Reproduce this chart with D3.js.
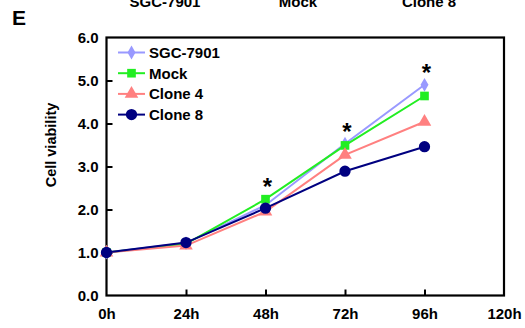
<!DOCTYPE html>
<html>
<head>
<meta charset="utf-8">
<script src="https://cdn.jsdelivr.net/npm/d3@7"></script>
<style>
  body { margin: 0; background: #fff; }
  text { font-family: "Liberation Sans", Arial, sans-serif; font-weight: bold; fill: #000; }
</style>
</head>
<body>
<script>
// data
var hours = [0, 24, 48, 72, 96];
var xTicks = [0, 24, 48, 72, 96, 120];
var yTicks = [0, 1, 2, 3, 4, 5, 6];
var seriesNames = ["SGC-7901", "Mock", "Clone 4", "Clone 8"];
var sgcValues = [1.0, 1.22, 2.1, 3.53, 4.9];
var mockValues = [1.0, 1.2, 2.24, 3.49, 4.64];
var clone4Values = [1.0, 1.16, 1.95, 3.27, 4.04];
var clone8Values = [1.0, 1.23, 2.03, 2.89, 3.46];
var starHours = [48, 72, 96];
var starValues = [2.24, 3.53, 4.9];
var topLabels = ["SGC-7901", "Mock", "Clone 8"];

var colors = ["#9999ff", "#22ee22", "#ff8080", "#000080"];
var shapes = [d3.symbolDiamond, d3.symbolSquare, d3.symbolTriangle, d3.symbolCircle];
var sizes = [55, 75, 80, 100];
var allValues = [sgcValues, mockValues, clone4Values, clone8Values];

var svg = d3.select("body").append("svg")
  .attr("width", 525)
  .attr("height", 328);

var x = d3.scaleLinear().domain([0, 120]).range([106.5, 504]);
var y = d3.scaleLinear().domain([0, 6]).range([295.5, 37.5]);

// cut-off header labels from the panel above
var topX = [165, 298, 429];
svg.selectAll(".top").data(topLabels).enter().append("text")
  .attr("x", function(d, i) { return topX[i]; })
  .attr("y", 7)
  .attr("text-anchor", "middle")
  .style("font-size", "15px")
  .text(function(d) { return d; });

svg.append("text")
  .attr("x", 12).attr("y", 25)
  .style("font-size", "21px")
  .text("E");

// axes
var yAxis = d3.axisLeft(y).tickValues(yTicks).tickSize(-6).tickPadding(8)
  .tickFormat(d3.format(".1f"));
var xAxis = d3.axisBottom(x).tickValues(xTicks).tickSize(-6).tickPadding(13)
  .tickFormat(function(d) { return d + "h"; });

var gy = svg.append("g").attr("transform", "translate(106.5,0)").call(yAxis);
var gx = svg.append("g").attr("transform", "translate(0,295.5)").call(xAxis);
[gx, gy].forEach(function(g) {
  g.select(".domain").remove();
  g.selectAll("line").attr("stroke", "#000").attr("stroke-width", 2);
  g.selectAll("text").style("font-size", "15px");
});
gx.selectAll(".tick line").filter(function(d) { return d === 0 || d === 120; }).remove();
gy.selectAll(".tick line").filter(function(d) { return d === 0 || d === 6; }).remove();

svg.append("rect")
  .attr("x", x(0)).attr("y", y(6))
  .attr("width", x(120) - x(0)).attr("height", y(0) - y(6))
  .attr("fill", "none").attr("stroke", "#000").attr("stroke-width", 2.2);

svg.append("text")
  .attr("transform", "translate(56,145) rotate(-90)")
  .attr("text-anchor", "middle")
  .style("font-size", "14.5px")
  .text("Cell viability");

// lines + markers
var line = d3.line()
  .x(function(d, i) { return x(hours[i]); })
  .y(function(d) { return y(d); });

allValues.forEach(function(vals, s) {
  svg.append("path")
    .datum(vals)
    .attr("d", line)
    .attr("fill", "none")
    .attr("stroke", colors[s])
    .attr("stroke-width", 2);
  svg.selectAll(".m" + s).data(vals).enter().append("path")
    .attr("transform", function(d, i) { return "translate(" + x(hours[i]) + "," + y(d) + ")"; })
    .attr("d", d3.symbol().type(shapes[s]).size(sizes[s]))
    .attr("fill", colors[s]);
});

// significance stars
svg.selectAll(".star").data(starValues).enter().append("text")
  .attr("x", function(d, i) { return x(starHours[i]) + 2; })
  .attr("y", function(d) { return y(d) - 4; })
  .attr("text-anchor", "middle")
  .style("font-size", "24px")
  .text("*");

// legend
var legend = svg.selectAll(".leg").data(seriesNames).enter().append("g")
  .attr("transform", function(d, i) { return "translate(118," + (52.5 + i * 20.7) + ")"; });
legend.append("line")
  .attr("x1", 0).attr("x2", 27)
  .attr("stroke", function(d, i) { return colors[i]; })
  .attr("stroke-width", 2);
legend.append("path")
  .attr("transform", "translate(13.5,0)")
  .attr("d", function(d, i) { return d3.symbol().type(shapes[i]).size(sizes[i])(); })
  .attr("fill", function(d, i) { return colors[i]; });
legend.append("text")
  .attr("x", 31).attr("y", 5.5)
  .style("font-size", "15px")
  .text(function(d) { return d; });
</script>
</body>
</html>
